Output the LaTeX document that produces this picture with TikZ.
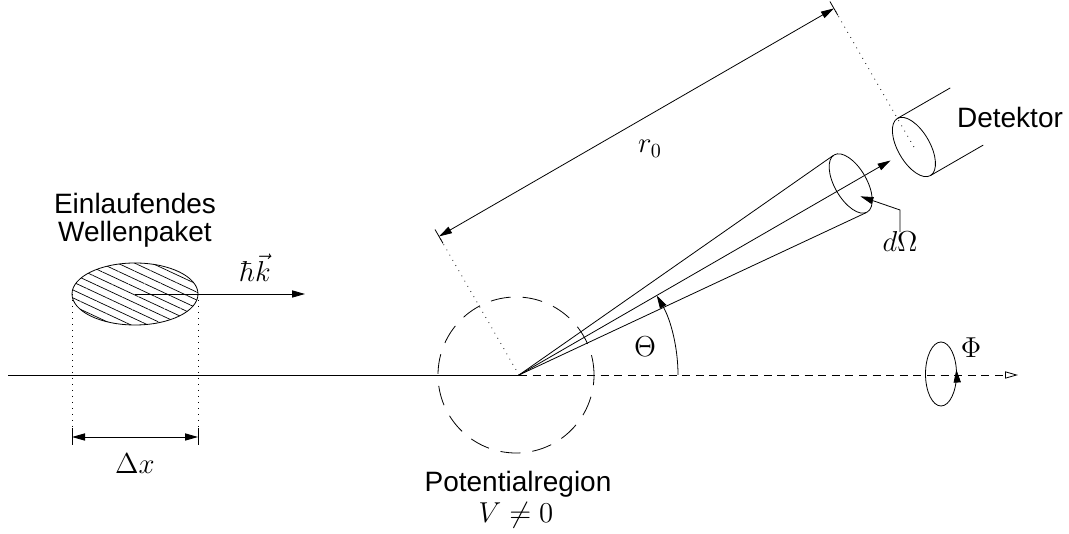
\documentclass[tikz,border=0pt]{standalone}
\usepackage{fontspec}
\newfontfamily\labelfont{Liberation Sans}
\usetikzlibrary{arrows.meta,patterns.meta}

\begin{document}
\begin{tikzpicture}[x=0.5pt, y=0.5pt,
  font=\fontsize{14.5}{17}\selectfont,
  lbl/.style={font=\fontsize{14}{14}\selectfont\labelfont, align=center, inner sep=0pt},
  mth/.style={inner sep=0pt, anchor=base},
  arr/.style={-{Triangle[length=6.5pt,width=3.6pt]}},
  dimarr/.style={{Triangle[length=6.5pt,width=3.6pt]}-{Triangle[length=6.5pt,width=3.6pt]}},
  axisdash/.style={dash pattern=on 4pt off 2.8pt},
  regiondash/.style={dash pattern=on 10pt off 6pt},
  dots/.style={dash pattern=on 0.4pt off 2.6pt}
]
\useasboundingbox (0,0) rectangle (1069,534);
\coordinate (O) at (519,159);
\coordinate (start) at (8,159);
\coordinate (axend) at (1018,159);
\coordinate (pak) at (135,240);
\coordinate (pakL) at (72,240);
\coordinate (pakR) at (198,240);
\coordinate (dxL) at (72,97);
\coordinate (dxR) at (198,97);
\coordinate (kend) at (305,240);
\coordinate (phi) at (941,160);

% beam axis and potential region
\draw (start) -- (O);
\draw[axisdash, -{Triangle[open,length=6.5pt,width=3.6pt]}] (O) -- (axend);
\draw[regiondash] (516,159) circle [radius=78];

% incoming wave packet
\draw[pattern={Lines[angle=-25,distance=3.6pt,line width=0.35pt]}] (pak) ellipse [x radius=63, y radius=31];
\draw[arr] (pak) -- (kend);
\draw[dots] (pakL) -- (dxL |- 0,89);
\draw[dots] (pakR) -- (dxR |- 0,89);
\draw[dimarr] (dxL) -- (dxR);
\draw (dxL) ++(0,-8) -- ++(0,17);
\draw (dxR) ++(0,-8) -- ++(0,17);

\node[lbl] (welle) at (135,314) {Einlaufendes\\Wellenpaket};
\node[mth] (hk) at (255,252) {$\hbar\vec{k}$};
\node[mth] (dx) at (135,60) {$\Delta x$};
\node[lbl, anchor=base] (pot) at (518,42) {Potentialregion};
\node[mth] (vne) at (516,11) {$V\neq 0$};

% scattering geometry along the 30 degree direction
\begin{scope}[shift={(O)}, rotate=30]
  \coordinate (apex) at (0,0);
  \coordinate (cone) at (383,0);
  \coordinate (det) at (456,0);
  \coordinate (rA) at (0,160);
  \coordinate (rB) at (456,160);
  \coordinate (omtip) at (385,-16);
  \draw (apex) -- (382,33);
  \draw (apex) -- (382,-33);
  \draw (cone) ellipse [x radius=16, y radius=33];
  \draw[arr] (apex) -- (429,0);
  \draw (det) ellipse [x radius=16, y radius=33];
  \draw (456,33) -- (517,33);
  \draw (456,-33) -- (517,-33);
  \draw[dots] (apex) -- (rA);
  \draw[dots] (det) -- (rB);
  \draw[dimarr] (rA) -- (rB);
  \draw (0,152) -- (0,168);
  \draw (456,152) -- (456,168);
\end{scope}

\draw[arr] (O) ++(159,0) arc [start angle=0, end angle=30, radius=159];
\node[mth] (theta) at (645,177) {$\Theta$};
\node[mth] (r0) at (650,381) {$r_0$};
\node[lbl, anchor=base] (detlbl) at (1010,406) {Detektor};

\node[mth] (dom) at (900,282) {$d\Omega$};
\draw[arr] (900,302) -- (900,324) -- (omtip);

% azimuth
\draw (phi) ellipse [x radius=15.5, y radius=32];
\draw[arr] (phi) ++(-12:15.5 and 32) arc [start angle=-12, end angle=8, x radius=15.5, y radius=32];
\node[mth] (phil) at (971,176) {$\Phi$};
\end{tikzpicture}
\end{document}
